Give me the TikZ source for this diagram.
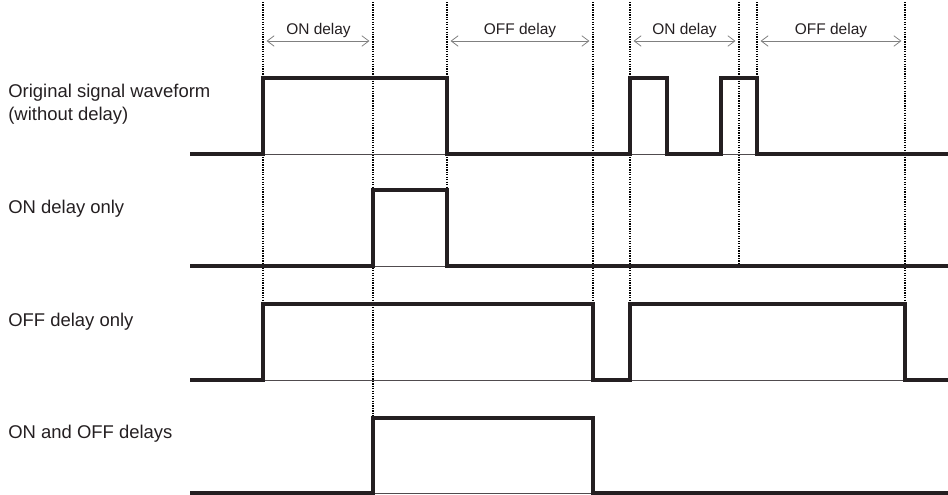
\documentclass[tikz,border=0pt]{standalone}
\usepackage{fontspec}
\setmainfont{Liberation Sans}
\usetikzlibrary{arrows.meta}
\definecolor{inkblack}{rgb}{0.14, 0.12, 0.13}
\definecolor{arrowgray}{rgb}{0.50, 0.50, 0.50}

\tikzset{
    wave/.style={inkblack, line width=1.8pt, line join=miter},
    baseline/.style={inkblack!80, line width=0.55pt},
    marker/.style={black, line width=0.6pt, dash pattern=on 0.7pt off 0.7pt},
    span/.style={arrowgray, line width=0.45pt, {Straight Barb[length=4pt,width=6pt]}-{Straight Barb[length=4pt,width=6pt]}, shorten <=2pt, shorten >=2pt},
    rowlabel/.style={anchor=base west, inner sep=0pt, text=inkblack, font=\fontsize{10.5}{12.5}\selectfont},
    spanlabel/.style={anchor=base, inner sep=0pt, text=inkblack, font=\fontsize{8.8}{10}\selectfont}
}

\begin{document}
\begin{tikzpicture}[x=2cm, y=-2cm]
\useasboundingbox (0,0) rectangle (9.48,4.95);

% Time marks
\coordinate (t1) at (2.63,0);
\coordinate (t2) at (3.73,0);
\coordinate (t3) at (4.47,0);
\coordinate (t4) at (5.93,0);
\coordinate (t5) at (6.30,0);
\coordinate (t8) at (7.39,0);
\coordinate (t9) at (7.57,0);
\coordinate (t10) at (9.05,0);

% Dotted guide lines
\draw[marker] (2.63,0.02) -- (2.63,3.04);
\draw[marker] (3.73,0.02) -- (3.73,4.18);
\draw[marker] (4.47,0.02) -- (4.47,2.66);
\draw[marker] (5.93,0.02) -- (5.93,3.04);
\draw[marker] (6.30,0.02) -- (6.30,3.04);
\draw[marker] (7.39,0.02) -- (7.39,2.66);
\draw[marker] (7.57,0.02) -- (7.57,0.78);
\draw[marker] (9.05,0.02) -- (9.05,3.04);

% Delay spans
\draw[span] ([yshift=-0.82cm]t1) -- ([yshift=-0.82cm]t2);
\draw[span] ([yshift=-0.82cm]t3) -- ([yshift=-0.82cm]t4);
\draw[span] ([yshift=-0.82cm]t5) -- ([yshift=-0.82cm]t8);
\draw[span] ([yshift=-0.82cm]t9) -- ([yshift=-0.82cm]t10);
\node[spanlabel] (ona) at (3.185,0.34) {ON delay};
\node[spanlabel] (offa) at (5.20,0.34) {OFF delay};
\node[spanlabel] (onb) at (6.845,0.34) {ON delay};
\node[spanlabel] (offb) at (8.31,0.34) {OFF delay};

% Row labels
\node[rowlabel] (orig) at (0.08,0.98) {Original signal waveform};
\node[rowlabel] (origb) at (0.08,1.205) {(without delay)};
\node[rowlabel] (ononly) at (0.08,2.13) {ON delay only};
\node[rowlabel] (offonly) at (0.08,3.26) {OFF delay only};
\node[rowlabel] (both) at (0.08,4.38) {ON and OFF delays};

% Original signal
\draw[baseline] (1.90,1.54) -- (9.48,1.54);
\draw[wave] (1.90,1.54) -- (2.63,1.54) -- (2.63,0.78) -- (4.47,0.78) -- (4.47,1.54)
    -- (6.30,1.54) -- (6.30,0.78) -- (6.67,0.78) -- (6.67,1.54)
    -- (7.21,1.54) -- (7.21,0.78) -- (7.57,0.78) -- (7.57,1.54) -- (9.48,1.54);

% ON delay only
\draw[baseline] (1.90,2.66) -- (9.48,2.66);
\draw[wave] (1.90,2.66) -- (3.73,2.66) -- (3.73,1.90) -- (4.47,1.90) -- (4.47,2.66) -- (9.48,2.66);

% OFF delay only
\draw[baseline] (1.90,3.80) -- (9.48,3.80);
\draw[wave] (1.90,3.80) -- (2.63,3.80) -- (2.63,3.04) -- (5.93,3.04) -- (5.93,3.80)
    -- (6.30,3.80) -- (6.30,3.04) -- (9.05,3.04) -- (9.05,3.80) -- (9.48,3.80);

% ON and OFF delays
\draw[baseline] (1.90,4.93) -- (9.48,4.93);
\draw[wave] (1.90,4.93) -- (3.73,4.93) -- (3.73,4.18) -- (5.93,4.18) -- (5.93,4.93) -- (9.48,4.93);

\end{tikzpicture}
\end{document}
